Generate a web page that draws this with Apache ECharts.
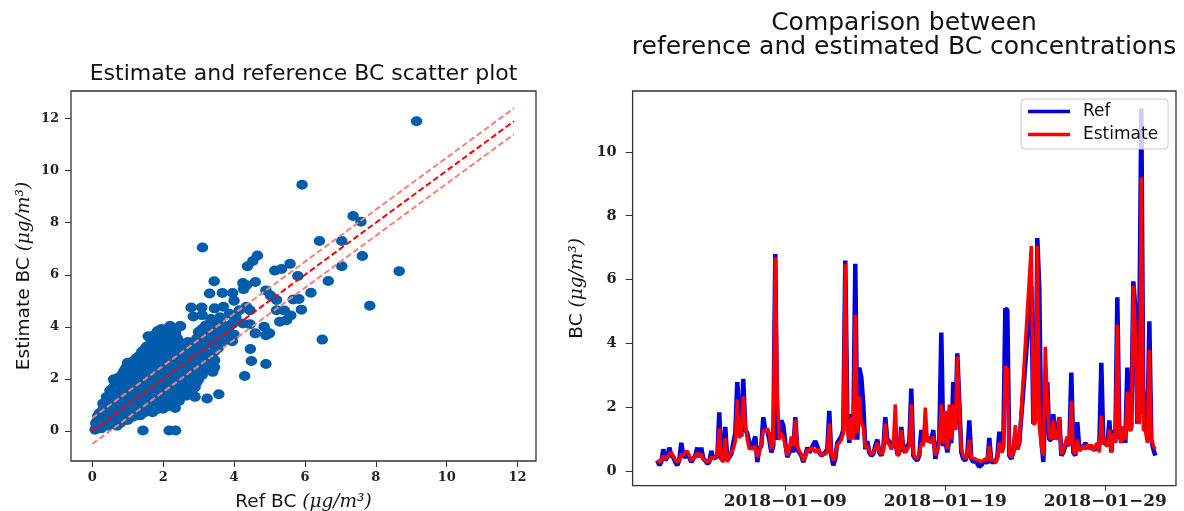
<!DOCTYPE html>
<html>
<head>
<meta charset="utf-8">
<script src="https://cdn.jsdelivr.net/npm/echarts@6/dist/echarts.min.js"></script>
<style>
  html, body { margin: 0; padding: 0; background: #fff; }
  #chart { width: 1184px; height: 511px; }
</style>
</head>
<body>
<div id="chart"></div>
<script>
// 散点图：[Ref BC, Estimate BC]
// 左下角密集的一团
const scatterBlob = [
  [0.08, 0.05], [0.25, 0.1],
  [0.2, 0.18], [0.45, 0.2], [0.7, 0.2],
  [0.1, 0.3], [0.3, 0.28], [0.55, 0.3], [0.8, 0.32],
  [0.25, 0.42], [0.5, 0.42], [0.75, 0.42], [1.0, 0.42],
  [0.15, 0.55], [0.4, 0.55], [0.65, 0.52], [0.9, 0.5], [1.15, 0.55], [1.35, 0.6],
  [0.2, 0.68], [0.45, 0.68], [0.7, 0.68], [0.95, 0.68], [1.2, 0.68], [1.45, 0.7], [1.7, 0.72],
  [0.3, 0.8], [0.55, 0.8], [0.8, 0.78], [1.05, 0.8], [1.3, 0.8], [1.55, 0.78], [1.8, 0.82], [2.0, 0.85],
  [0.4, 0.92], [0.65, 0.92], [0.9, 0.92], [1.15, 0.92], [1.4, 0.92], [1.65, 0.92], [1.9, 0.95], [2.15, 0.95],
  [0.3, 1.05], [0.55, 1.05], [0.8, 1.05], [1.05, 1.05], [1.3, 1.05], [1.55, 1.05], [1.8, 1.05], [2.05, 1.05], [2.34, 0.88],
  [0.45, 1.18], [0.7, 1.18], [0.95, 1.18], [1.2, 1.18], [1.45, 1.18], [1.7, 1.18], [1.95, 1.18], [2.2, 1.18], [2.45, 1.15],
  [0.4, 1.3], [0.65, 1.3], [0.9, 1.3], [1.15, 1.3], [1.4, 1.3], [1.65, 1.3], [1.9, 1.3], [2.15, 1.3], [2.4, 1.25], [2.65, 1.35], [2.9, 1.31],
  [0.55, 1.42], [0.8, 1.42], [1.05, 1.42], [1.3, 1.42], [1.55, 1.42], [1.8, 1.42], [2.05, 1.42], [2.3, 1.42], [2.55, 1.42], [2.75, 1.4],
  [0.5, 1.55], [0.75, 1.55], [1.0, 1.55], [1.25, 1.55], [1.5, 1.55], [1.75, 1.55], [2.0, 1.55], [2.25, 1.55], [2.5, 1.55], [2.75, 1.5],
  [0.6, 1.68], [0.85, 1.68], [1.1, 1.68], [1.35, 1.68], [1.6, 1.68], [1.85, 1.68], [2.1, 1.68], [2.35, 1.68], [2.6, 1.68], [2.85, 1.62],
  [0.65, 1.8], [0.9, 1.8], [1.15, 1.8], [1.4, 1.8], [1.65, 1.8], [1.9, 1.8], [2.15, 1.8], [2.4, 1.8], [2.65, 1.8], [2.9, 1.7],
  [0.75, 1.92], [1.0, 1.92], [1.25, 1.92], [1.5, 1.92], [1.75, 1.92], [2.0, 1.92], [2.25, 1.92], [2.5, 1.92], [2.75, 1.92], [2.95, 1.88],
  [0.75, 2.05], [1.0, 2.05], [1.25, 2.05], [1.5, 2.05], [1.75, 2.05], [2.0, 2.05], [2.25, 2.05], [2.5, 2.05], [2.75, 2.05], [3.0, 2.0],
  [0.85, 2.18], [1.1, 2.18], [1.35, 2.18], [1.6, 2.18], [1.85, 2.18], [2.1, 2.18], [2.35, 2.18], [2.6, 2.18], [2.85, 2.18], [3.1, 2.15],
  [0.9, 2.3], [1.15, 2.3], [1.4, 2.3], [1.65, 2.3], [1.9, 2.3], [2.15, 2.3], [2.4, 2.3], [2.65, 2.3], [2.9, 2.3], [3.15, 2.3], [3.4, 2.27],
  [0.95, 2.42], [1.2, 2.42], [1.45, 2.42], [1.7, 2.42], [1.95, 2.42], [2.2, 2.42], [2.45, 2.42], [2.7, 2.42], [2.95, 2.42], [3.2, 2.42], [3.45, 2.45],
  [1.0, 2.6], [1.25, 2.55], [1.5, 2.55], [1.75, 2.55], [2.0, 2.55], [2.25, 2.55], [2.5, 2.55], [2.75, 2.55], [3.0, 2.55], [3.25, 2.55], [3.45, 2.72],
  [1.15, 2.68], [1.4, 2.68], [1.65, 2.68], [1.9, 2.68], [2.15, 2.68], [2.4, 2.68], [2.65, 2.68], [2.9, 2.68], [3.15, 2.68],
  [1.25, 2.8], [1.5, 2.8], [1.75, 2.8], [2.0, 2.8], [2.25, 2.8], [2.5, 2.8], [2.75, 2.8], [3.0, 2.8], [3.25, 2.85],
  [1.35, 2.92], [1.6, 2.92], [1.85, 2.92], [2.1, 2.92], [2.35, 2.92], [2.6, 2.92], [2.85, 2.92], [3.1, 2.92], [3.35, 2.92],
  [1.4, 3.05], [1.65, 3.05], [1.9, 3.05], [2.15, 3.05], [2.4, 3.05], [2.65, 3.05], [2.9, 3.05], [3.15, 3.05], [3.45, 3.05],
  [1.5, 3.18], [1.75, 3.18], [2.0, 3.18], [2.25, 3.18], [2.5, 3.18], [2.75, 3.18], [3.0, 3.18], [3.55, 3.18],
  [1.55, 3.25], [1.8, 3.3], [2.05, 3.3], [2.3, 3.3], [2.55, 3.3], [2.8, 3.3], [3.05, 3.3], [3.3, 3.35], [3.55, 3.3],
  [1.7, 3.42], [1.95, 3.42], [2.2, 3.42], [2.45, 3.42], [2.7, 3.42], [2.95, 3.42], [3.2, 3.42], [3.45, 3.42], [3.65, 3.42],
  [1.62, 3.6], [1.9, 3.55], [2.15, 3.55], [2.4, 3.55], [2.95, 3.55], [3.2, 3.55], [3.45, 3.55], [3.7, 3.55],
  [1.75, 3.68], [2.0, 3.68], [2.25, 3.68], [3.1, 3.68], [3.35, 3.68], [3.6, 3.68],
  [1.85, 3.83], [2.1, 3.8], [2.35, 3.75], [3.0, 3.8], [3.25, 3.8], [3.5, 3.85], [3.75, 3.8],
  [1.95, 3.92], [2.3, 3.92], [3.1, 3.92], [3.35, 3.92], [3.6, 3.92], [3.85, 3.95],
  [2.2, 4.03], [2.48, 4.03], [3.2, 4.05], [3.45, 4.0], [3.7, 4.05], [3.95, 4.1],
  [2.85, 4.4], [3.1, 4.45], [3.35, 4.3], [3.6, 4.3]
]

// 团块外面分散的点
const scatterSpread = [
  [0.6, 1.98], [0.65, 1.99], [1.0, 2.62], [1.53, 3.23], [1.58, 3.64], [1.84, 3.83], [2.19, 4.02], [2.49, 4.02],
  [1.43, 0.02], [2.17, 0.02], [2.35, 0.02], [2.83, 1.4], [2.89, 1.69], [3.24, 1.25], [3.57, 1.41],
  [2.79, 4.74], [3.09, 4.74], [3.45, 4.71], [3.6, 4.37], [3.7, 4.77], [3.87, 4.5], [4.0, 5.0], [4.05, 4.38],
  [4.15, 4.64], [4.35, 4.77], [4.45, 4.64], [4.25, 4.13], [3.95, 4.13], [3.64, 3.87], [3.95, 3.45], [4.0, 3.7],
  [3.75, 3.5], [4.45, 4.1], [4.6, 3.75], [4.85, 4.0], [4.9, 3.68], [5.0, 3.75],
  [4.46, 3.15], [4.49, 2.69], [4.9, 2.57], [4.3, 2.11],
  [3.44, 5.75], [3.31, 5.28], [3.67, 5.3], [3.96, 5.3], [4.25, 5.68], [4.27, 5.45], [4.38, 6.33], [4.53, 6.53],
  [4.66, 6.74], [4.6, 5.72], [4.35, 5.6], [4.9, 5.4], [5.03, 5.2], [5.15, 6.16], [5.34, 6.22], [5.58, 6.42],
  [5.8, 5.95], [5.2, 5.03], [5.2, 4.64], [5.29, 4.2], [5.42, 4.63], [5.48, 4.25], [5.6, 4.44], [5.67, 5.05],
  [5.83, 5.07], [5.9, 4.66], [6.17, 5.31], [6.66, 5.76], [7.04, 6.33], [7.04, 7.3], [6.41, 7.3], [7.62, 6.72],
  [8.66, 6.14], [7.83, 4.81], [6.49, 3.51], [5.92, 9.46], [9.15, 11.9], [7.36, 8.26], [7.58, 8.04], [3.11, 7.05]
]

// 1:1 线和 ±0.5 的范围线
const lineCenter = [[0, 0], [11.9, 11.9]]
const lineUpper = [[0, 0.5], [11.9, 12.4]]
const lineLower = [[0, -0.5], [11.9, 11.4]]
const scatterTicks = [0, 2, 4, 6, 8, 10, 12]

// 时间序列：从 2018-01-01 00:00 起每 3 小时一个点，null 为缺测
const seriesStart = Date.UTC(2018, 0, 1)
const stepHours = 3
const refValues = [
  0.35, 0.2, 0.3, 0.7, 0.35, 0.45, 0.75, 0.5,
  0.45, 0.3, 0.2, 0.35, 0.9, 0.5, 0.45, 0.55,
  0.45, 0.3, 0.4, 0.5, 0.75, 0.45, 0.75, 0.4,
  0.35, 0.25, 0.3, 0.65, 0.4, 0.45, 0.45, 1.85,
  0.4, 0.35, 1.4, 0.35, 0.45, 0.55, 0.9, 1.2,
  2.8, 1.8, 1.1, 2.9, 1.3, 1.2, 0.9, 0.8,
  0.9, 1.1, 0.3, 0.7, 0.8, 1.7, 1.3, 1.3,
  1.0, 0.6, 0.8, 6.8, 1.0, 1.2, 1.6, 1.45,
  0.9, 0.45, 0.6, 0.8, 0.6, 1.7, 0.7, 0.6,
  0.5, 0.3, 0.5, 0.75, 0.6, 0.7, 0.85, 0.95,
  0.8, 0.6, 0.5, 0.55, 0.6, 0.7, 1.9, 0.5,
  0.2, 0.4, 0.9, 1.0, 1.1, 1.3, 6.6, 1.8,
  0.9, 1.8, 1.2, 6.5, 1.0, 3.25, 2.95, 2.1,
  0.7, 0.95, 0.6, 0.5, 0.55, 0.8, 1.0, 0.6,
  0.5, 0.7, 1.7, 1.0, 0.95, 0.8, 0.9, 1.0,
  0.55, 0.6, 1.4, 0.7, 0.6, 0.8, 0.9, 2.6,
  0.5, 0.4, 0.35, 0.5, 1.3, 0.9, 1.3, 1.0,
  1.05, 1.0, 1.3, 0.4, 0.7, 1.0, 4.35, 0.8,
  1.0, 0.6, 1.0, 0.9, 2.8, 1.3, 3.7, 2.2,
  0.6, 0.4, 0.35, 0.5, 1.6, 0.4, 0.3, 0.35,
  0.25, 0.15, 0.2, 0.3, 0.35, 0.25, 1.05, 0.3,
  0.3, 0.3, 0.45, 1.25, 0.6, 0.8, 5.1, 5.05,
  0.5, 0.4, 0.6, 1.2, 0.7, 0.9, null, null,
  null, null, null, 5.8, 1.5, 1.6, 7.3, 5.7,
  1.0, 0.3, 2.0, 2.8, 1.0, 1.0, 1.8, 1.0,
  1.2, 1.7, 0.5, 0.6, 0.8, 1.0, 0.8, 3.1,
  0.6, 0.5, 1.55, 0.7, 0.8, 0.75, 0.9, 0.75,
  0.8, 0.75, 0.7, 0.7, 0.75, 0.8, 3.4, 0.9,
  0.9, 0.8, 1.6, 0.6, 1.3, 0.9, 5.45, 1.2,
  0.9, 1.4, 0.9, 3.25, 1.3, 1.4, 5.95, 5.1,
  1.5, 4.4, 11.35, 1.8, 2.5, 1.0, 4.7, 1.0,
  0.7, 0.5
]
const estValues = [
  0.35, 0.3, 0.35, 0.5, 0.4, 0.45, 0.55, 0.6,
  0.5, 0.35, 0.3, 0.35, 0.55, 0.5, 0.6, 0.65,
  0.5, 0.35, 0.4, 0.45, 0.6, 0.45, 0.55, 0.4,
  0.35, 0.3, 0.35, 0.45, 0.4, 0.45, 0.5, 1.35,
  0.4, 0.3, 1.05, 0.3, 0.5, 0.6, 0.7, 0.95,
  2.25, 1.05, 1.2, 2.35, 1.5, 1.0, 0.7, 0.75,
  0.7, 0.8, 0.45, 0.6, 0.9, 1.3, 1.25, 1.35,
  1.2, 0.7, 0.9, 6.7, 2.4, 1.0, 1.2, 1.1,
  0.8, 0.5, 0.7, 1.1, 0.8, 1.6, 0.8, 0.65,
  0.55, 0.35, 0.45, 0.7, 0.65, 0.75, 0.7, 0.6,
  0.7, 0.65, 0.5, 0.55, 0.55, 0.6, 1.5, 0.55,
  0.35, 0.5, 0.85, 0.9, 1.0, 1.2, 6.5, 1.3,
  1.0, 1.7, 1.0, 4.9, 1.2, 2.35, 1.5, 1.4,
  0.75, 0.8, 0.65, 0.55, 0.6, 0.7, 0.9, 0.65,
  0.55, 0.65, 1.5, 0.9, 0.85, 0.7, 0.8, 2.1,
  0.5, 0.55, 1.3, 0.75, 0.6, 0.7, 0.8, 2.1,
  0.55, 0.45, 0.4, 0.55, 0.9, 0.8, 2.0, 0.95,
  0.95, 0.9, 1.1, 0.5, 0.65, 0.9, 2.1, 0.9,
  1.9, 0.7, 2.1, 1.0, 2.1, 1.3, 3.6, 2.0,
  0.7, 0.5, 0.4, 0.5, 1.0, 0.45, 0.4, 0.4,
  0.35, 0.35, 0.3, 0.35, 0.4, 0.35, 0.8, 0.35,
  0.35, 0.3, 0.4, 0.9, 0.6, 0.7, 3.3, 3.2,
  0.55, 0.45, 0.6, 1.45, 0.7, 0.9, null, null,
  null, null, null, 7.05, 1.5, 1.5, 7.05, 1.4,
  0.8, 0.5, 3.9, 2.2, 1.1, 1.0, 1.6, 1.0,
  1.1, 1.7, 0.55, 0.65, 0.9, 1.1, 0.8, 2.2,
  0.65, 0.55, 1.0, 0.65, 0.7, 0.8, 0.7, 0.85,
  0.7, 0.85, 0.65, 0.8, 0.9, 0.6, 1.75, 0.9,
  0.85, 0.8, 1.3, 0.6, 1.2, 0.9, 4.6, 1.2,
  0.9, 1.4, 1.0, 2.5, 1.3, 1.3, 5.8, 4.3,
  1.6, 1.5, 9.2, 1.3, 1.3, 0.9, 3.8, 1.0,
  0.8, 0.7
]
const dateTicks = ['2018-01-09', '2018-01-19', '2018-01-29']
const bcTicks = [0, 2, 4, 6, 8, 10]

const tickFont = {
  fontFamily: 'DejaVu Serif',
  fontWeight: 'bold',
  fontSize: 13,
  color: '#222',
}

// 轴标题里 μg/m³ 用斜体衬线
const unitRich = {
  s: { fontFamily: 'DejaVu Sans', fontSize: 18.5, color: '#111' },
  m: { fontFamily: 'DejaVu Serif', fontStyle: 'italic', fontSize: 18.5, color: '#111' },
}

const toSeries = (values) => values.map((v, i) => [seriesStart + i * stepHours * 3600 * 1000, v])
const dateTickValues = dateTicks.map((d) => Date.parse(d + 'T00:00:00Z'))
const pad = (n) => (n < 10 ? '0' + n : String(n))

const chart = echarts.init(document.getElementById('chart'))

chart.setOption({
  animation: false,
  backgroundColor: '#fff',

  title: [
    {
      text: 'Estimate and reference BC scatter plot',
      left: 303.5,
      top: 63,
      padding: 0,
      textAlign: 'center',
      textStyle: { fontFamily: 'DejaVu Sans', fontSize: 22, fontWeight: 'normal', color: '#111' },
    },
    {
      text: 'Comparison between\nreference and estimated BC concentrations',
      left: 904,
      top: 11,
      padding: 0,
      textAlign: 'center',
      textStyle: { fontFamily: 'DejaVu Sans', fontSize: 25, lineHeight: 24, fontWeight: 'normal', color: '#111' },
    },
  ],

  legend: {
    data: [
      { name: 'Ref', icon: 'rect' },
      { name: 'Estimate', icon: 'rect' },
    ],
    orient: 'vertical',
    left: 1021,
    top: 99,
    itemWidth: 42,
    itemHeight: 3.5,
    itemGap: 0,
    padding: [1, 10, 3, 7],
    backgroundColor: 'rgba(255,255,255,0.8)',
    borderColor: '#cccccc',
    borderWidth: 1,
    borderRadius: 4,
    selectedMode: false,
    textStyle: { fontFamily: 'DejaVu Sans', fontSize: 17, lineHeight: 23, color: '#111', padding: [0, 0, 0, 8] },
  },

  // 左边散点图，右边时间序列
  grid: [
    { left: 71, top: 91, width: 465, height: 370, show: true, borderColor: '#333', borderWidth: 1.3, outerBoundsMode: 'none' },
    { left: 632.6, top: 91, width: 543.4, height: 394.7, show: true, borderColor: '#333', borderWidth: 1.3, outerBoundsMode: 'none' },
  ],

  xAxis: [
    {
      type: 'value',
      gridIndex: 0,
      min: -0.6,
      max: 12.52,
      splitLine: { show: false },
      axisLine: { show: false, onZero: false },
      axisTick: { show: true, customValues: scatterTicks, length: 6, lineStyle: { color: '#333' } },
      axisLabel: { customValues: scatterTicks, margin: 10, ...tickFont },
      name: '{s|Ref BC }{m|(μg/m³)}',
      nameLocation: 'middle',
      nameGap: 32,
      nameTextStyle: { rich: unitRich },
    },
    {
      // 时间用毫秒数的数值轴，便于只在三个日期处画刻度
      type: 'value',
      gridIndex: 1,
      min: Date.UTC(2017, 11, 30, 11, 0),
      max: Date.UTC(2018, 1, 2, 10, 0),
      splitLine: { show: false },
      axisLine: { show: false, onZero: false },
      axisTick: { show: true, customValues: dateTickValues, length: 5, lineStyle: { color: '#333' } },
      axisLabel: {
        customValues: dateTickValues,
        margin: 7,
        ...tickFont,
        fontSize: 17,
        formatter: (v) => {
          const d = new Date(v)
          return d.getUTCFullYear() + '−' + pad(d.getUTCMonth() + 1) + '−' + pad(d.getUTCDate())
        },
      },
    },
  ],

  yAxis: [
    {
      type: 'value',
      gridIndex: 0,
      min: -1.154,
      max: 13.06,
      splitLine: { show: false },
      axisLine: { show: false, onZero: false },
      axisTick: { show: true, customValues: scatterTicks, length: 6, lineStyle: { color: '#333' } },
      axisLabel: { customValues: scatterTicks, margin: 12, ...tickFont },
      name: '{s|Estimate BC }{m|(μg/m³)}',
      nameLocation: 'middle',
      nameGap: 37,
      nameRotate: 90,
      nameTextStyle: { rich: unitRich },
    },
    {
      type: 'value',
      gridIndex: 1,
      min: -0.44,
      max: 11.9,
      splitLine: { show: false },
      axisLine: { show: false, onZero: false },
      axisTick: { show: true, customValues: bcTicks, length: 7, lineStyle: { color: '#333' } },
      axisLabel: { customValues: bcTicks, margin: 16, ...tickFont, fontSize: 14.5 },
      name: '{s|BC }{m|(μg/m³)}',
      nameLocation: 'middle',
      nameGap: 46,
      nameRotate: 90,
      nameTextStyle: { rich: unitRich },
    },
  ],

  series: [
    {
      type: 'scatter',
      xAxisIndex: 0,
      yAxisIndex: 0,
      data: scatterBlob.concat(scatterSpread),
      symbolSize: [11.5, 10],
      itemStyle: { color: '#005dab', opacity: 1 },
      z: 2,
    },
    {
      type: 'line',
      xAxisIndex: 0,
      yAxisIndex: 0,
      data: lineUpper,
      symbol: 'none',
      lineStyle: { color: '#fa8072', width: 2, type: [6, 3] },
      z: 3,
    },
    {
      type: 'line',
      xAxisIndex: 0,
      yAxisIndex: 0,
      data: lineLower,
      symbol: 'none',
      lineStyle: { color: '#fa8072', width: 2, type: [6, 3] },
      z: 3,
    },
    {
      type: 'line',
      xAxisIndex: 0,
      yAxisIndex: 0,
      data: lineCenter,
      symbol: 'none',
      lineStyle: { color: '#ff0000', width: 2, type: [6, 3] },
      z: 4,
    },
    {
      name: 'Ref',
      type: 'line',
      xAxisIndex: 1,
      yAxisIndex: 1,
      data: toSeries(refValues),
      symbol: 'none',
      connectNulls: true,
      itemStyle: { color: '#0000dd' },
      lineStyle: { color: '#0000dd', width: 4.5 },
      z: 2,
    },
    {
      name: 'Estimate',
      type: 'line',
      xAxisIndex: 1,
      yAxisIndex: 1,
      data: toSeries(estValues),
      symbol: 'none',
      connectNulls: true,
      itemStyle: { color: '#ff0000' },
      lineStyle: { color: '#ff0000', width: 3.5 },
      z: 3,
    },
  ],
})
</script>
</body>
</html>
